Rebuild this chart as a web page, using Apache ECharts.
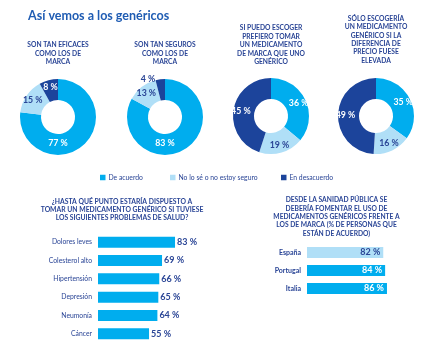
<!DOCTYPE html>
<html><head><meta charset="utf-8">
<style>html,body{margin:0;padding:0;background:#fff}#c{width:432px;height:353px}</style>
<script src="https://cdn.jsdelivr.net/npm/echarts@6/dist/echarts.min.js"></script>
</head><body><div id="c"></div>
<script>
// ---- Data ----
var seriesNames = ['De acuerdo', 'No lo sé o no estoy seguro', 'En desacuerdo'];
var donutTitles = [
  'SON TAN EFICACES\nCOMO LOS DE\nMARCA',
  'SON TAN SEGUROS\nCOMO LOS DE\nMARCA',
  'SI PUEDO ESCOGER\nPREFIERO TOMAR\nUN MEDICAMENTO\nDE MARCA QUE UNO\nGENÉRICO',
  'SÓLO ESCOGERÍA\nUN MEDICAMENTO\nGENÉRICO SI LA\nDIFERENCIA DE\nPRECIO FUESE\nELEVADA'
];
var donut1 = [77, 15, 8];
var donut2 = [83, 13, 4];
var donut3 = [36, 19, 45];
var donut4 = [35, 16, 49];

var healthTitle = '¿HASTA QUÉ PUNTO ESTARÍA DISPUESTO A\nTOMAR UN MEDICAMENTO GENÉRICO SI TUVIESE\nLOS SIGUIENTES PROBLEMAS DE SALUD?';
var healthCats = ['Dolores leves', 'Colesterol alto', 'Hipertensión', 'Depresión', 'Neumonía', 'Cáncer'];
var healthVals = [83, 69, 66, 65, 64, 55];

var countryTitle = 'DESDE LA SANIDAD PÚBLICA SE\nDEBERÍA FOMENTAR EL USO DE\nMEDICAMENTOS GENÉRICOS FRENTE A\nLOS DE MARCA (% DE PERSONAS QUE\nESTÁN DE ACUERDO)';
var countryCats = ['España', 'Portugal', 'Italia'];
var countryVals = [82, 84, 86];

// ---- Styles ----
var CYAN = '#00adee', LIGHT = '#b0dff7', DARK = '#1c449b', TXT = '#2a4596', TITLE = '#1f5cb3';
var FONT = 'Lato';
var colors = [CYAN, LIGHT, DARK];
var labelColors = ['#ffffff', TXT, '#ffffff'];

var chart = echarts.init(document.getElementById('c'), null, {renderer: 'canvas'});

function donutSeries(vals, cx, cy, outsideIdx) {
  return {
    type: 'pie', center: [cx, cy], radius: [17, 38], startAngle: 90, clockwise: true,
    avoidLabelOverlap: false, silent: true,
    data: vals.map(function (v, i) {
      var d = {
        name: seriesNames[i], value: v,
        itemStyle: {color: colors[i]},
        label: {color: labelColors[i]}
      };
      if (outsideIdx === i) {
        d.label = {position: 'outside', color: TXT};
        d.labelLine = {show: false, length: 0, length2: 0};
      }
      return d;
    }),
    label: {show: true, position: 'inside', formatter: '{c} %', fontFamily: FONT, fontSize: 8.8, fontWeight: 'bold'},
    labelLine: {show: false},
    labelLayout: function (p) {
      // the dominant slice's label sits at the bottom of the ring
      if (p.dataIndex === 0 && vals[0] > 70) {
        return {x: p.rect.x + p.rect.width / 2, y: p.rect.y + p.rect.height - 12, align: 'center', verticalAlign: 'middle'};
      }
      return {};
    }
  };
}

var titleStyle = {fontFamily: FONT, fontSize: 6.7, fontWeight: 'bold', color: TXT, lineHeight: 8.4, align: 'center'};

var donutCenters = [[58, 117], [165, 117], [271, 116], [376, 116]];
var donutTitleTops = [41, 41, 24, 14.5];

var titles = [{
  text: 'Así vemos a los genéricos', left: 23, top: 4,
  textStyle: {fontFamily: FONT, fontSize: 12.5, fontWeight: 'bold', color: TITLE}
}];
donutTitles.forEach(function (t, i) {
  titles.push({text: t, left: donutCenters[i][0], top: donutTitleTops[i], textAlign: 'center', padding: 0,
    textStyle: titleStyle});
});
titles.push({text: healthTitle, left: 122, top: 197.5, textAlign: 'center', padding: 0,
  textStyle: {fontFamily: FONT, fontSize: 6.8, fontWeight: 'bold', color: TXT, lineHeight: 8.3, align: 'center'}});
titles.push({text: countryTitle, left: 336.5, top: 196, textAlign: 'center', padding: 0,
  textStyle: {fontFamily: FONT, fontSize: 6.7, fontWeight: 'bold', color: TXT, lineHeight: 8.3, align: 'center'}});

var legendLefts = [100, 170, 281];
var legends = seriesNames.map(function (n, i) {
  return {data: [n], left: legendLefts[i], top: 174, itemWidth: 5.5, itemHeight: 5.5, itemGap: 0, padding: 0,
    icon: 'rect', selectedMode: false,
    textStyle: {fontFamily: FONT, fontSize: 6.8, color: TXT, padding: [0, 0, 0, -2]}};
});

var option = {
  animation: false,
  title: titles,
  legend: legends,
  grid: [
    {left: 98, top: 233, width: 92.8, height: 110},
    {left: 307, top: 243.5, width: 93, height: 54}
  ],
  xAxis: [
    {gridIndex: 0, type: 'value', min: 0, max: 100, show: false},
    {gridIndex: 1, type: 'value', min: 0, max: 100, show: false}
  ],
  yAxis: [
    {gridIndex: 0, type: 'category', data: healthCats, inverse: true,
      axisLine: {show: false}, axisTick: {show: false}, splitLine: {show: false},
      axisLabel: {margin: 6, fontFamily: FONT, fontSize: 6.8, color: TXT}},
    {gridIndex: 1, type: 'category', data: countryCats, inverse: true,
      axisLine: {show: false}, axisTick: {show: false}, splitLine: {show: false},
      axisLabel: {margin: 6, fontFamily: FONT, fontSize: 7, fontWeight: 'bold', color: TXT}}
  ],
  series: [
    donutSeries(donut1, 58, 117, -1),
    donutSeries(donut2, 165, 117, 2),
    donutSeries(donut3, 271, 116, -1),
    donutSeries(donut4, 376, 116, -1),
    {type: 'bar', xAxisIndex: 0, yAxisIndex: 0, barWidth: 11, silent: true,
      data: healthVals, itemStyle: {color: CYAN},
      label: {show: true, position: 'right', distance: 2, formatter: '{c} %', fontFamily: FONT, fontSize: 9, fontWeight: 'bold', color: TXT}},
    {type: 'bar', xAxisIndex: 1, yAxisIndex: 1, barWidth: 11, silent: true,
      data: countryVals.map(function (v, i) {
        return {value: v, itemStyle: {color: i === 0 ? LIGHT : CYAN}, label: {color: i === 0 ? TXT : '#ffffff'}};
      }),
      label: {show: true, position: 'insideRight', distance: 3, formatter: '{c} %', fontFamily: FONT, fontSize: 9, fontWeight: 'bold'}}
  ]
};
chart.setOption(option);
</script></body></html>
